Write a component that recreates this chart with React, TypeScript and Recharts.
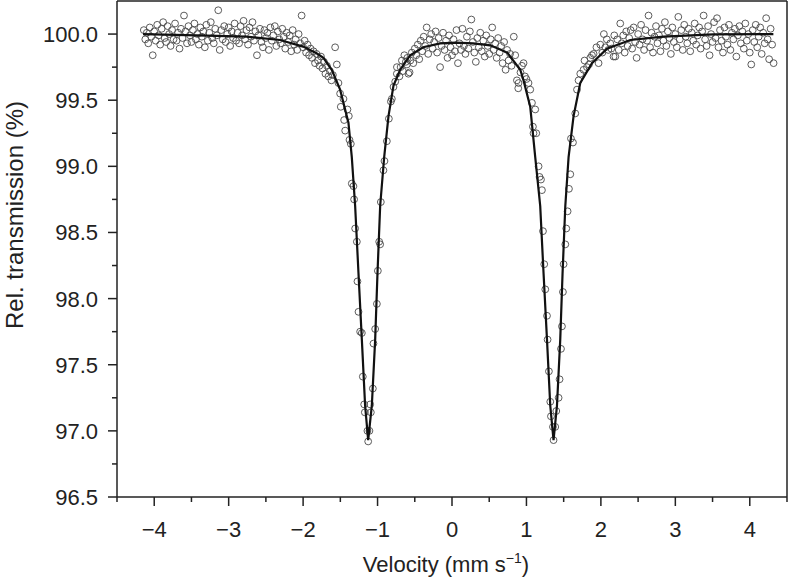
import React from 'react';
import { ScatterChart, Scatter, XAxis, YAxis, ReferenceLine } from 'recharts';

// Mössbauer spectrum: velocity (mm/s) vs relative transmission (%)
const leftBaseline: [number, number][] = [
  [-4.14, 100.03], [-4.12, 99.96], [-4.10, 100.01], [-4.08, 99.93], [-4.06, 100.05], [-4.04, 99.98], [-4.02, 99.84], [-4.00, 100.02],
  [-3.98, 99.95], [-3.96, 100.07], [-3.94, 99.99], [-3.92, 99.92], [-3.90, 100.04], [-3.88, 100.09], [-3.86, 99.97], [-3.84, 99.94],
  [-3.82, 100.06], [-3.80, 100.00], [-3.78, 99.91], [-3.76, 100.03], [-3.74, 99.96], [-3.72, 100.08], [-3.70, 99.95], [-3.68, 100.01],
  [-3.66, 99.89], [-3.64, 100.04], [-3.62, 99.97], [-3.60, 100.14], [-3.58, 100.02], [-3.56, 99.93], [-3.54, 100.06], [-3.52, 99.99],
  [-3.50, 99.94], [-3.48, 100.03], [-3.46, 100.08], [-3.44, 99.96], [-3.42, 100.00], [-3.40, 99.92], [-3.38, 100.05], [-3.36, 99.98],
  [-3.34, 100.02], [-3.32, 99.90], [-3.30, 100.07], [-3.28, 99.95], [-3.26, 100.01], [-3.24, 100.09], [-3.22, 99.97], [-3.20, 99.93],
  [-3.18, 100.04], [-3.16, 99.99], [-3.14, 100.18], [-3.12, 99.88], [-3.10, 100.03], [-3.08, 99.96], [-3.06, 100.06], [-3.04, 99.94],
  [-3.02, 100.00], [-3.00, 100.05], [-2.98, 99.91], [-2.96, 100.02], [-2.94, 99.97], [-2.92, 100.08], [-2.90, 99.95], [-2.88, 100.01],
  [-2.86, 99.93], [-2.84, 100.06], [-2.82, 99.99], [-2.80, 100.10], [-2.78, 99.96], [-2.76, 100.03], [-2.74, 99.92], [-2.72, 100.05],
  [-2.70, 99.98], [-2.68, 100.09], [-2.66, 99.95], [-2.64, 100.02], [-2.62, 99.84], [-2.60, 99.99], [-2.58, 100.04], [-2.56, 99.94],
  [-2.54, 99.90], [-2.52, 100.03], [-2.50, 99.97], [-2.48, 100.01], [-2.46, 99.88], [-2.44, 100.05], [-2.42, 99.95], [-2.40, 99.99],
  [-2.38, 100.06], [-2.36, 99.91], [-2.34, 100.02], [-2.32, 99.96], [-2.30, 99.93], [-2.28, 100.04], [-2.26, 99.98], [-2.24, 99.89],
  [-2.22, 100.01], [-2.20, 99.94], [-2.18, 99.99], [-2.16, 99.87], [-2.14, 100.03], [-2.12, 99.92], [-2.10, 99.96], [-2.08, 99.88],
  [-2.06, 100.00], [-2.04, 99.93], [-2.02, 100.14], [-2.00, 99.90], [-1.98, 99.95], [-1.96, 99.86], [-1.94, 99.92], [-1.92, 99.84],
  [-1.90, 99.89], [-1.88, 99.82], [-1.86, 99.87], [-1.84, 99.78], [-1.82, 99.85], [-1.80, 99.80], [-1.78, 99.76], [-1.76, 99.83],
  [-1.74, 99.74], [-1.72, 99.79], [-1.70, 99.70], [-1.68, 99.76], [-1.66, 99.68], [-1.64, 99.72], [-1.62, 99.65], [-1.60, 99.69],
];

const leftDip: [number, number][] = [
  [-1.570, 99.90], [-1.547, 99.77], [-1.525, 99.63], [-1.503, 99.55], [-1.494, 99.45], [-1.458, 99.51], [-1.449, 99.35],
  [-1.435, 99.27], [-1.404, 99.43], [-1.386, 99.38], [-1.377, 99.20], [-1.359, 99.17], [-1.346, 98.87], [-1.324, 98.85],
  [-1.315, 98.75], [-1.301, 98.53], [-1.278, 98.43], [-1.270, 98.13], [-1.256, 97.90], [-1.234, 97.75], [-1.211, 97.74],
  [-1.198, 97.41], [-1.180, 97.20], [-1.171, 97.14], [-1.136, 97.00], [-1.126, 96.92], [-1.109, 97.00], [-1.099, 97.20],
  [-1.090, 97.14], [-1.063, 97.32], [-1.055, 97.66], [-1.032, 97.77], [-1.009, 97.96], [-0.996, 98.21], [-0.978, 98.43],
  [-0.965, 98.41], [-0.956, 98.73], [-0.921, 98.97], [-0.907, 99.04], [-0.875, 99.19], [-0.848, 99.36], [-0.821, 99.49],
  [-0.808, 99.51], [-0.786, 99.60], [-0.763, 99.64], [-0.741, 99.70], [-0.740, 99.75], [-0.706, 99.68], [-0.690, 99.75],
  [-0.673, 99.80], [-0.660, 99.72], [-0.640, 99.84], [-0.620, 99.79], [-0.606, 99.77], [-0.600, 99.82], [-0.585, 99.70],
  [-0.570, 99.71],
];

const centre: [number, number][] = [
  [-0.56, 99.80], [-0.54, 99.86], [-0.52, 99.78], [-0.50, 99.89], [-0.48, 99.84], [-0.46, 99.92], [-0.44, 99.81], [-0.42, 99.95],
  [-0.40, 99.87], [-0.38, 99.98], [-0.36, 99.91], [-0.34, 100.05], [-0.32, 99.85], [-0.30, 99.96], [-0.28, 100.00], [-0.26, 99.89],
  [-0.24, 99.94], [-0.22, 100.02], [-0.20, 99.86], [-0.18, 99.97], [-0.16, 99.75], [-0.14, 99.91], [-0.12, 100.01], [-0.10, 99.88],
  [-0.08, 99.95], [-0.06, 99.82], [-0.04, 99.99], [-0.02, 99.90], [0.00, 99.84], [0.02, 99.96], [0.04, 99.87], [0.06, 100.03],
  [0.08, 99.78], [0.10, 99.93], [0.12, 99.88], [0.14, 100.04], [0.16, 99.91], [0.18, 99.85], [0.20, 99.98], [0.22, 99.89],
  [0.24, 100.02], [0.26, 100.11], [0.28, 99.94], [0.30, 99.86], [0.32, 99.79], [0.34, 99.97], [0.36, 99.90], [0.38, 100.01],
  [0.40, 99.87], [0.42, 99.95], [0.44, 99.83], [0.46, 99.99], [0.48, 99.91], [0.50, 99.85], [0.52, 99.96], [0.54, 100.05],
  [0.56, 99.88], [0.58, 99.93], [0.60, 99.82], [0.62, 99.97], [0.64, 99.86], [0.66, 99.91], [0.68, 99.78], [0.70, 99.94],
  [0.72, 99.73], [0.74, 99.88], [0.76, 99.80], [0.78, 99.85], [0.80, 99.76], [0.83, 99.98],
];

const rightDip: [number, number][] = [
  [0.849, 99.84], [0.872, 99.65], [0.890, 99.59], [0.894, 99.63], [0.920, 99.71], [0.940, 99.76], [0.961, 99.78],
  [0.980, 99.68], [1.000, 99.66], [1.028, 99.63], [1.051, 99.58], [1.074, 99.48], [1.087, 99.30], [1.095, 99.25],
  [1.118, 99.43], [1.132, 99.25], [1.163, 99.00], [1.176, 98.92], [1.195, 98.90], [1.208, 98.82], [1.222, 98.51],
  [1.239, 98.26], [1.253, 98.07], [1.276, 97.87], [1.284, 97.69], [1.302, 97.45], [1.320, 97.22], [1.329, 97.11],
  [1.356, 97.03], [1.364, 96.93], [1.387, 97.03], [1.401, 97.15], [1.432, 97.25], [1.445, 97.39], [1.464, 97.62],
  [1.477, 97.79], [1.490, 98.05], [1.499, 98.26], [1.522, 98.41], [1.535, 98.53], [1.553, 98.66], [1.571, 98.83],
  [1.589, 98.94], [1.598, 99.21], [1.625, 99.18], [1.656, 99.40], [1.679, 99.58], [1.700, 99.65], [1.723, 99.70],
  [1.767, 99.73], [1.780, 99.80], [1.813, 99.75], [1.840, 99.77], [1.858, 99.82], [1.880, 99.84], [1.902, 99.85],
  [1.940, 99.90], [1.969, 99.78], [1.992, 99.92], [2.020, 99.86], [2.040, 100.00], [2.059, 99.90], [2.080, 99.96],
  [2.100, 99.88], [2.126, 99.93], [2.140, 99.89], [2.170, 99.83], [2.180, 99.99], [2.194, 99.83],
];

const rightBaseline: [number, number][] = [
  [2.22, 99.96], [2.24, 99.88], [2.26, 100.08], [2.28, 99.93], [2.30, 99.99], [2.32, 99.86], [2.34, 100.02], [2.36, 99.91],
  [2.38, 99.97], [2.40, 100.03], [2.42, 99.89], [2.44, 100.05], [2.46, 99.94], [2.48, 99.82], [2.50, 100.00], [2.52, 99.92],
  [2.54, 100.07], [2.56, 99.96], [2.58, 99.88], [2.60, 100.03], [2.62, 99.95], [2.64, 100.14], [2.66, 99.90], [2.68, 100.01],
  [2.70, 99.86], [2.72, 99.98], [2.74, 100.06], [2.76, 99.93], [2.78, 99.99], [2.80, 99.87], [2.82, 100.04], [2.84, 99.95],
  [2.86, 100.09], [2.88, 99.91], [2.90, 100.02], [2.92, 99.97], [2.94, 99.85], [2.96, 100.05], [2.98, 99.94], [3.00, 100.00],
  [3.02, 99.90], [3.04, 100.13], [3.06, 99.96], [3.08, 100.03], [3.10, 99.88], [3.12, 100.07], [3.14, 99.98], [3.16, 99.93],
  [3.18, 100.04], [3.20, 99.87], [3.22, 100.01], [3.24, 99.95], [3.26, 100.08], [3.28, 99.92], [3.30, 99.99], [3.32, 100.05],
  [3.34, 99.89], [3.36, 100.02], [3.38, 100.14], [3.40, 99.96], [3.42, 99.91], [3.44, 100.06], [3.46, 99.84], [3.48, 100.00],
  [3.50, 99.94], [3.52, 100.09], [3.54, 99.97], [3.56, 100.12], [3.58, 99.90], [3.60, 100.03], [3.62, 99.95], [3.64, 99.86],
  [3.66, 100.05], [3.68, 99.98], [3.70, 99.92], [3.72, 100.07], [3.74, 99.88], [3.76, 100.01], [3.78, 99.96], [3.80, 100.04],
  [3.82, 99.83], [3.84, 99.99], [3.86, 100.06], [3.88, 99.93], [3.90, 100.02], [3.92, 99.89], [3.94, 100.08], [3.96, 99.95],
  [3.98, 100.00], [4.00, 99.86], [4.02, 99.77], [4.04, 100.03], [4.06, 99.94], [4.08, 100.07], [4.10, 99.90], [4.12, 99.98],
  [4.14, 100.05], [4.16, 99.85], [4.18, 100.01], [4.20, 99.93], [4.22, 100.12], [4.24, 99.96], [4.26, 99.81], [4.28, 100.04],
  [4.30, 99.92], [4.32, 99.78],
];

const fitCurve: [number, number][] = [
  [-4.15, 100.0], [-3.43, 99.99], [-2.76, 99.98], [-2.31, 99.955], [-2.0, 99.905], [-1.82, 99.855], [-1.727, 99.82],
  [-1.615, 99.73], [-1.503, 99.58], [-1.391, 99.33], [-1.346, 99.07], [-1.301, 98.7], [-1.256, 98.19], [-1.211, 97.69],
  [-1.167, 97.19], [-1.126, 96.93], [-1.077, 97.19], [-1.032, 97.69], [-1.001, 98.19], [-0.965, 98.7], [-0.911, 99.07],
  [-0.853, 99.38], [-0.786, 99.61], [-0.696, 99.73], [-0.562, 99.84], [-0.387, 99.9], [-0.159, 99.93], [0.056, 99.935],
  [0.285, 99.93], [0.513, 99.915], [0.742, 99.86], [0.917, 99.73], [0.961, 99.65], [1.051, 99.45], [1.118, 99.07],
  [1.185, 98.7], [1.23, 98.19], [1.276, 97.69], [1.32, 97.19], [1.364, 96.93], [1.41, 97.19], [1.454, 97.69],
  [1.485, 98.19], [1.522, 98.7], [1.566, 99.07], [1.633, 99.38], [1.723, 99.63], [1.88, 99.78], [2.082, 99.89],
  [2.395, 99.955], [2.839, 99.98], [3.511, 99.997], [4.317, 100.0],
];

const xTicks = [-4.5, -4, -3.5, -3, -2.5, -2, -1.5, -1, -0.5, 0, 0.5, 1, 1.5, 2, 2.5, 3, 3.5, 4, 4.5];
const yTicks = [96.5, 96.75, 97, 97.25, 97.5, 97.75, 98, 98.25, 98.5, 98.75, 99, 99.25, 99.5, 99.75, 100];

const FONT = '"Liberation Sans", Arial, Helvetica, sans-serif';
const INK = '#222';

const toPoints = (arr: [number, number][]) => arr.map(([v, t]) => ({ v, t }));
const measured = [
  ...toPoints(leftBaseline),
  ...toPoints(leftDip),
  ...toPoints(centre),
  ...toPoints(rightDip),
  ...toPoints(rightBaseline),
];
const fit = toPoints(fitCurve);

const XTick = (props: any) => {
  const { x, y, payload } = props;
  const v = payload.value as number;
  const major = Math.abs(v - Math.round(v)) < 1e-6;
  return (
    <g>
      <line x1={x} y1={y} x2={x} y2={y + (major ? 9 : 5)} stroke={INK} strokeWidth={1.5} />
      {major && (
        <text x={x} y={y + 40} textAnchor="middle" fontSize={22} fontFamily={FONT} fill={INK}>
          {v < 0 ? '\u2212' + Math.abs(v) : String(v)}
        </text>
      )}
    </g>
  );
};

const YTick = (props: any) => {
  const { x, y, payload } = props;
  const v = payload.value as number;
  const major = Math.abs(v * 2 - Math.round(v * 2)) < 1e-6;
  return (
    <g>
      <line x1={x - (major ? 9 : 5)} y1={y} x2={x} y2={y} stroke={INK} strokeWidth={1.5} />
      {major && (
        <text x={x - 19} y={y + 8} textAnchor="end" fontSize={22} fontFamily={FONT} fill={INK}>
          {v.toFixed(1)}
        </text>
      )}
    </g>
  );
};

const Ring = (props: any) => {
  const { cx, cy } = props;
  if (cx == null || cy == null) return <g />;
  return <circle cx={cx} cy={cy} r={3.4} fill="none" stroke="#4a4a4a" strokeWidth={0.9} />;
};

const NoShape = () => <g />;

export default function App() {
  return (
    <div style={{ position: 'absolute', left: 0, top: 0, width: 788, height: 579, background: '#fff' }}>
      <ScatterChart width={788} height={579} margin={{ top: 1, right: 1, left: 0, bottom: 0 }}>
        <XAxis
          type="number"
          dataKey="v"
          domain={[-4.5, 4.5]}
          ticks={xTicks}
          interval={0}
          allowDataOverflow
          height={82}
          tickSize={0}
          tickMargin={0}
          tickLine={false}
          axisLine={{ stroke: INK, strokeWidth: 1.5 }}
          tick={<XTick />}
        />
        <YAxis
          type="number"
          dataKey="t"
          domain={[96.5, 100.25]}
          ticks={yTicks}
          interval={0}
          allowDataOverflow
          width={117}
          tickSize={0}
          tickMargin={0}
          tickLine={false}
          axisLine={{ stroke: INK, strokeWidth: 1.5 }}
          tick={<YTick />}
        />
        <ReferenceLine y={100.25} stroke={INK} strokeWidth={1.5} />
        <ReferenceLine x={4.5} stroke={INK} strokeWidth={1.5} />
        <Scatter data={measured} shape={<Ring />} isAnimationActive={false} />
        <Scatter
          data={fit}
          shape={<NoShape />}
          line={{ stroke: '#111', strokeWidth: 2.2 }}
          lineType="joint"
          isAnimationActive={false}
        />
      </ScatterChart>
      <svg
        width={788}
        height={579}
        style={{ position: 'absolute', left: 0, top: 0, pointerEvents: 'none' }}
      >
        <text x={446} y={572} textAnchor="middle" fontSize={22} fontFamily={FONT} fill={INK}>
          Velocity (mm s
          <tspan fontSize={14} dy={-9}>{'\u22121'}</tspan>
          <tspan dy={9}>)</tspan>
        </text>
        <text
          transform="translate(23, 215) rotate(-90)"
          textAnchor="middle"
          fontSize={24}
          fontFamily={FONT}
          fill={INK}
        >
          Rel. transmission (%)
        </text>
      </svg>
    </div>
  );
}
